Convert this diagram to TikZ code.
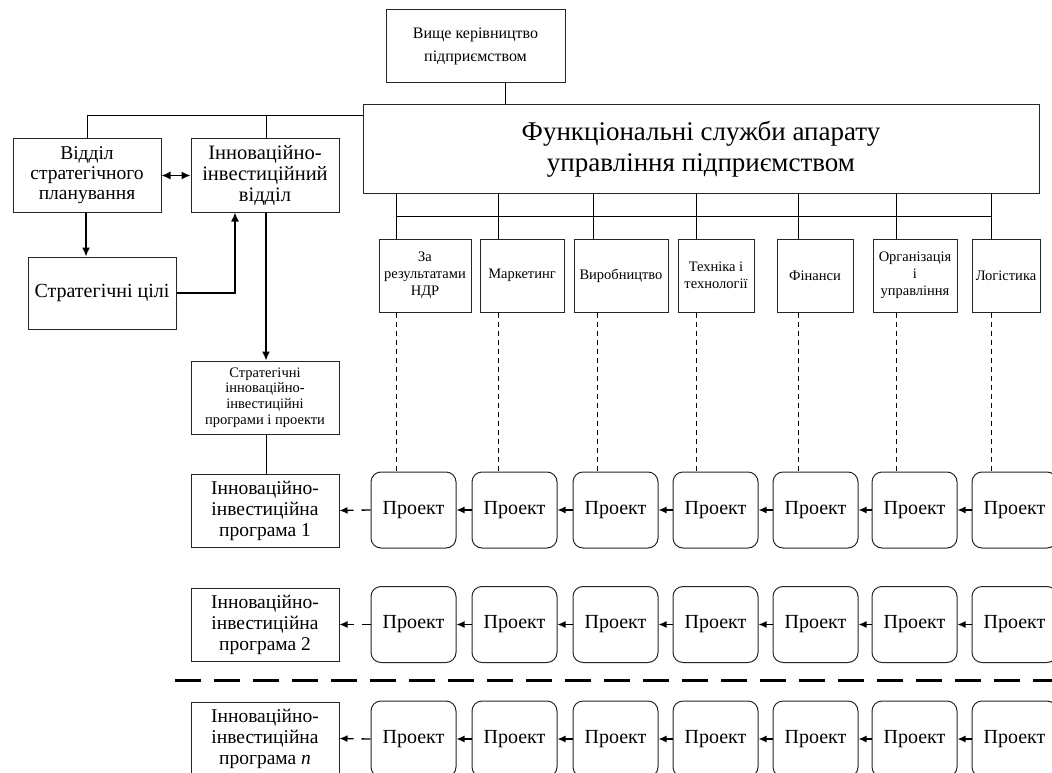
\documentclass[tikz,border=0pt]{standalone}
\usepackage{fontspec}
\setmainfont{Liberation Serif}
\usetikzlibrary{arrows.meta}
\begin{document}
\begin{tikzpicture}[x=1pt,y=-1pt,
  box/.style={draw=black!85, line width=1pt, inner sep=0pt, align=center},
  proj/.style={box, rounded corners=10pt, minimum width=85pt, minimum height=76pt, font=\fontsize{20}{22}\selectfont},
  prog/.style={box, minimum width=148pt, minimum height=73pt, font=\fontsize{19.5}{21}\selectfont},
  func/.style={box, minimum height=73pt, font=\fontsize{14.5}{17}\selectfont},
  conn/.style={line width=1pt},
  arr/.style={line width=1.5pt, -{Latex[length=9pt,width=8pt]}},
  darr/.style={line width=1.5pt, {Latex[length=9pt,width=8pt]}-{Latex[length=9pt,width=8pt]}},
  rarr/.style={line width=1.3pt, -{Latex[length=8pt,width=7pt]}},
  fdash/.style={line width=0.9pt, dash pattern=on 5pt off 4pt},
  sep/.style={line width=3pt, dash pattern=on 26pt off 13pt}
]
\useasboundingbox (0,0) rectangle (1052,773);

% top
\node[box, minimum width=179pt, minimum height=73pt, font=\fontsize{16}{23}\selectfont] (top) at (475.5,46.5) {Вище керівництво\\підприємством};
\node[box, minimum width=676pt, minimum height=89pt, font=\fontsize{27}{31}\selectfont] (big) at (701,149) {Функціональні служби апарату\\управління підприємством};
\draw[conn] (top.south -| 505,0) -- (big.north -| 505,0);

% left part
\node[box, minimum width=148pt, minimum height=73pt, font=\fontsize{19.5}{20}\selectfont] (vsp) at (87,175.5) {Відділ\\стратегічного\\планування};
\node[box, minimum width=148pt, minimum height=73pt, font=\fontsize{20.5}{21}\selectfont] (iiv) at (265,175.5) {Інноваційно-\\інвестиційний\\відділ};
\node[box, minimum width=148pt, minimum height=72pt, font=\fontsize{20}{22}\selectfont] (cili) at (102,293) {Стратегічні цілі};
\node[box, minimum width=148pt, minimum height=73pt, font=\fontsize{14.5}{15.6}\selectfont] (sip) at (265,397.5) {Стратегічні\\інноваційно-\\інвестиційні\\програми і проекти};

\coordinate (jn) at (266,116);
\draw[conn] (big.west |- jn) -| (vsp.north);
\draw[conn] (jn) -- (iiv.north -| jn);
\draw[darr] (vsp.east) -- (iiv.west);
\draw[arr] (vsp.south -| 86,0) -- (cili.north -| 86,0);
\draw[arr] (cili.east) -| (iiv.south -| 235,0);
\draw[arr] (iiv.south -| 266,0) -- (sip.north -| 266,0);

% programs
\node[prog] (prog1) at (265,510.5) {Інноваційно-\\інвестиційна\\програма 1};
\node[prog] (prog2) at (265,624.5) {Інноваційно-\\інвестиційна\\програма 2};
\node[prog] (prog3) at (265,738.5) {Інноваційно-\\інвестиційна\\програма \textit{n}};
\draw[conn] (sip.south -| 266,0) -- (prog1.north -| 266,0);

% functional boxes
\node[func, minimum width=92pt] (f1) at (425,275.5) {За\\результатами\\НДР};
\node[func, minimum width=84pt] (f2) at (522,275.5) {Маркетинг};
\node[func, minimum width=94pt] (f3) at (621,275.5) {Виробництво};
\node[func, minimum width=76pt] (f4) at (716,275.5) {Техніка і\\технології};
\node[func, minimum width=76pt] (f5) at (815,275.5) {Фінанси};
\node[func, minimum width=84pt] (f6) at (915,275.5) {Організація\\і\\управління};
\node[func, minimum width=68pt] (f7) at (1006,275.5) {Логістика};

\coordinate (busL) at (396,216);
\coordinate (busR) at (991,216);
\draw[conn] (busL) -- (busR);
\foreach \i/\x in {1/396, 2/498, 3/593, 4/696, 5/798, 6/896, 7/991} {
  \draw[conn] (big.south -| \x,0) -- (f\i.north -| \x,0);
}

% projects
\foreach \r/\y in {1/510, 2/624.5, 3/739} {
  \foreach \i/\x in {1/413.5, 2/514.5, 3/615.5, 4/715.5, 5/815.5, 6/914.5, 7/1014.5} {
    \node[proj] (p\r\i) at (\x,\y) {Проект};
  }
  \foreach \i/\j in {2/1, 3/2, 4/3, 5/4, 6/5, 7/6} {
    \draw[rarr] (p\r\i.west) -- (p\r\j.east);
  }
  \draw[rarr, dash pattern=on 9pt off 8pt] (p\r1.west) -- (prog\r.east);
}

\foreach \i/\x in {1/396, 2/498, 3/597, 4/696, 5/798, 6/896, 7/991} {
  \draw[fdash] (f\i.south -| \x,0) -- (p1\i.north -| \x,0);
}

\coordinate (dl) at (175,680);
\coordinate (dr) at (1052,680);
\draw[sep] (dl) -- (dr);
\end{tikzpicture}
\end{document}
